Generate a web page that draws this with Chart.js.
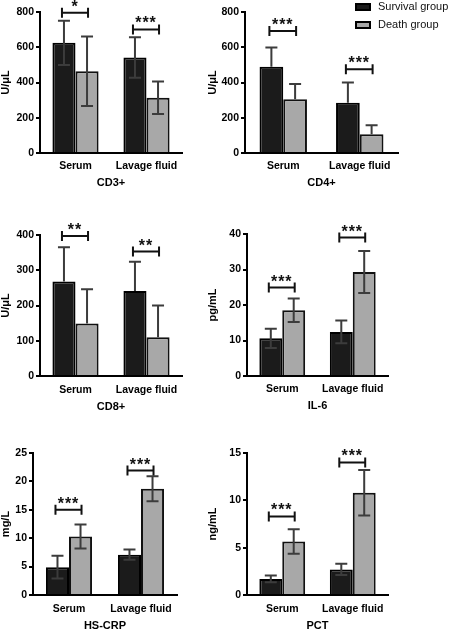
<!DOCTYPE html>
<html>
<head>
<meta charset="utf-8">
<script src="https://cdn.jsdelivr.net/npm/chart.js@4.4.1/dist/chart.umd.min.js"></script>
<style>
    html, body { margin: 0; padding: 0; background: #fff; }
    #wrap { position: relative; width: 450px; height: 631px; overflow: hidden; }
    canvas { position: absolute; }
</style>
</head>
<body>
<div id="wrap">
    <canvas id="cd3" width="225" height="210" style="left:0;top:0"></canvas>
    <canvas id="cd4" width="245" height="210" style="left:205px;top:0"></canvas>
    <canvas id="cd8" width="225" height="210" style="left:0;top:210px"></canvas>
    <canvas id="il6" width="245" height="210" style="left:205px;top:210px"></canvas>
    <canvas id="crp" width="225" height="211" style="left:0;top:420px"></canvas>
    <canvas id="pct" width="245" height="211" style="left:205px;top:420px"></canvas>
</div>
<script>
const categories = ['Serum', 'Lavage fluid'];
const groupNames = ['Survival group', 'Death group'];

// CD3+
const cd3Survival = [625, 542];
const cd3SurvivalSd = [125, 115];
const cd3Death = [464, 313];
const cd3DeathSd = [197, 92];
const cd3Sig = ['*', '***'];
const cd3SigAt = [796, 701];

// CD4+
const cd4Survival = [490, 285];
const cd4SurvivalSd = [108, 115];
const cd4Death = [305, 106];
const cd4DeathSd = [87, 52];
const cd4Sig = ['***', '***'];
const cd4SigAt = [692, 475];

// CD8+
const cd8Survival = [268, 241];
const cd8SurvivalSd = [97, 83];
const cd8Death = [149, 110];
const cd8DeathSd = [97, 90];
const cd8Sig = ['**', '**'];
const cd8SigAt = [397, 353];

// IL-6
const il6Survival = [10.6, 12.4];
const il6SurvivalSd = [2.7, 3.2];
const il6Death = [18.5, 29.3];
const il6DeathSd = [3.3, 5.9];
const il6Sig = ['***', '***'];
const il6SigAt = [24.9, 39];

// HS-CRP
const crpSurvival = [4.9, 7.1];
const crpSurvivalSd = [2.0, 0.9];
const crpDeath = [10.3, 18.7];
const crpDeathSd = [2.1, 2.2];
const crpSig = ['***', '***'];
const crpSigAt = [15.0, 21.9];

// PCT
const pctSurvival = [1.7, 2.7];
const pctSurvivalSd = [0.35, 0.6];
const pctDeath = [5.65, 10.8];
const pctDeathSd = [1.3, 2.4];
const pctSig = ['***', '***'];
const pctSigAt = [8.3, 14.0];

const FONT = '"Liberation Sans", Arial, sans-serif';

// error bars (mean +/- sd)
const errorBars = {
    id: 'errorBars',
    afterDatasetsDraw(chart, args, opts) {
        const ctx = chart.ctx;
        const y = chart.scales.y;
        ctx.save();
        ctx.strokeStyle = '#3c3c3c';
        ctx.lineWidth = 2;
        chart.data.datasets.forEach((ds, i) => {
            chart.getDatasetMeta(i).data.forEach((bar, j) => {
                const v = ds.data[j];
                const e = ds.errors[j];
                const top = y.getPixelForValue(v + e);
                const bottom = opts.down ? y.getPixelForValue(v - e) : y.getPixelForValue(v);
                ctx.beginPath();
                ctx.moveTo(bar.x, top);
                ctx.lineTo(bar.x, bottom);
                ctx.moveTo(bar.x - 6, top);
                ctx.lineTo(bar.x + 6, top);
                if (opts.down) {
                    ctx.moveTo(bar.x - 6, bottom);
                    ctx.lineTo(bar.x + 6, bottom);
                }
                ctx.stroke();
            });
        });
        ctx.restore();
    }
};

// significance brackets with stars
const sigBrackets = {
    id: 'sigBrackets',
    afterDatasetsDraw(chart, args, opts) {
        const ctx = chart.ctx;
        const y = chart.scales.y;
        const a = chart.getDatasetMeta(0).data;
        const b = chart.getDatasetMeta(1).data;
        ctx.save();
        ctx.strokeStyle = '#111';
        ctx.fillStyle = '#111';
        ctx.lineWidth = 2;
        ctx.font = 'bold 16px ' + FONT;
        ctx.textAlign = 'center';
        ctx.textBaseline = 'alphabetic';
        ctx.letterSpacing = '1px';
        opts.marks.forEach((mark, j) => {
            const yy = y.getPixelForValue(opts.at[j]);
            const x1 = a[j].x - 2;
            const x2 = b[j].x + 1;
            ctx.beginPath();
            ctx.moveTo(x1, yy);
            ctx.lineTo(x2, yy);
            ctx.moveTo(x1, yy - 5);
            ctx.lineTo(x1, yy + 5);
            ctx.moveTo(x2, yy - 5);
            ctx.lineTo(x2, yy + 5);
            ctx.stroke();
            ctx.fillText(mark, (x1 + x2) / 2, yy - 1);
        });
        ctx.restore();
    }
};

// legend boxes, only shown on the CD4+ panel
const groupLegend = {
    id: 'groupLegend',
    afterDraw(chart, args, opts) {
        if (!opts.show) return;
        const ctx = chart.ctx;
        ctx.save();
        ctx.font = '11px ' + FONT;
        ctx.textBaseline = 'middle';
        ctx.textAlign = 'left';
        chart.data.datasets.forEach((ds, i) => {
            const yy = opts.y + i * opts.gap;
            ctx.fillStyle = ds.backgroundColor;
            ctx.strokeStyle = '#000';
            ctx.lineWidth = 2;
            ctx.fillRect(opts.x, yy - 3, 14, 6);
            ctx.strokeRect(opts.x, yy - 3, 14, 6);
            ctx.fillStyle = '#111';
            ctx.fillText(ds.label, opts.x + 22, yy);
        });
        ctx.restore();
    }
};

function makePanel(p) {
    const canvas = document.getElementById(p.id);
    const W = canvas.width;
    const H = canvas.height;
    return new Chart(canvas, {
        type: 'bar',
        data: {
            labels: categories,
            datasets: [
                {
                    label: groupNames[0],
                    data: p.survival,
                    errors: p.survivalSd,
                    backgroundColor: '#1b1b1b',
                    borderColor: '#000',
                    borderWidth: 2,
                    categoryPercentage: p.catPct,
                    barPercentage: 1
                },
                {
                    label: groupNames[1],
                    data: p.death,
                    errors: p.deathSd,
                    backgroundColor: '#a8a8a8',
                    borderColor: '#111',
                    borderWidth: 2,
                    categoryPercentage: p.catPct,
                    barPercentage: 1
                }
            ]
        },
        options: {
            responsive: false,
            animation: false,
            devicePixelRatio: 1,
            layout: {
                padding: {left: 0, top: p.box.top, right: W - p.box.right, bottom: 0}
            },
            plugins: {
                legend: {display: false},
                tooltip: {enabled: false},
                errorBars: {down: p.down},
                sigBrackets: {marks: p.sig, at: p.sigAt},
                groupLegend: {show: !!p.legend, x: 151, y: 7, gap: 18}
            },
            scales: {
                x: {
                    grid: {display: false, drawTicks: false},
                    border: {display: true, color: '#000', width: 2},
                    ticks: {color: '#000', padding: p.labelPad, font: {family: FONT, weight: 'bold', size: 10.5}},
                    title: {
                        display: true,
                        text: p.title,
                        color: '#000',
                        font: {family: FONT, weight: 'bold', size: 11, lineHeight: 1},
                        padding: {top: 0, bottom: p.titlePad}
                    },
                    afterFit: s => { s.height = H - p.box.bottom; }
                },
                y: {
                    min: 0,
                    max: p.max,
                    grid: {drawOnChartArea: false, drawTicks: true, tickLength: 4, color: '#000', lineWidth: 2},
                    border: {display: true, color: '#000', width: 2},
                    ticks: {stepSize: p.step, color: '#000', padding: 2, font: {family: FONT, weight: 'bold', size: 10.5}},
                    title: {
                        display: true,
                        text: p.yTitle,
                        color: '#000',
                        font: {family: FONT, weight: 'bold', size: 11, lineHeight: 1},
                        padding: {top: p.yTitlePad, bottom: 0}
                    },
                    afterFit: s => { s.width = p.box.left; }
                }
            }
        },
        plugins: [errorBars, sigBrackets, groupLegend]
    });
}

makePanel({
    id: 'cd3', title: 'CD3+', yTitle: 'U/μL', max: 800, step: 200,
    survival: cd3Survival, survivalSd: cd3SurvivalSd, death: cd3Death, deathSd: cd3DeathSd,
    sig: cd3Sig, sigAt: cd3SigAt, down: true, catPct: 0.65,
    box: {left: 40, right: 182, top: 12, bottom: 153}, labelPad: 7, titlePad: 21.5, yTitlePad: 0
});
makePanel({
    id: 'cd4', title: 'CD4+', yTitle: 'U/μL', max: 800, step: 200,
    survival: cd4Survival, survivalSd: cd4SurvivalSd, death: cd4Death, deathSd: cd4DeathSd,
    sig: cd4Sig, sigAt: cd4SigAt, down: false, catPct: 0.62, legend: true,
    box: {left: 40, right: 193, top: 12, bottom: 153}, labelPad: 7, titlePad: 21.5, yTitlePad: 2
});
makePanel({
    id: 'cd8', title: 'CD8+', yTitle: 'U/μL', max: 400, step: 100,
    survival: cd8Survival, survivalSd: cd8SurvivalSd, death: cd8Death, deathSd: cd8DeathSd,
    sig: cd8Sig, sigAt: cd8SigAt, down: false, catPct: 0.65,
    box: {left: 40, right: 182, top: 25, bottom: 166}, labelPad: 8, titlePad: 7.5, yTitlePad: 0
});
makePanel({
    id: 'il6', title: 'IL-6', yTitle: 'pg/mL', max: 40, step: 10,
    survival: il6Survival, survivalSd: il6SurvivalSd, death: il6Death, deathSd: il6DeathSd,
    sig: il6Sig, sigAt: il6SigAt, down: true, catPct: 0.65,
    box: {left: 42, right: 183, top: 24, bottom: 166}, labelPad: 7, titlePad: 8.5, yTitlePad: 2
});
makePanel({
    id: 'crp', title: 'HS-CRP', yTitle: 'mg/L', max: 25, step: 5,
    survival: crpSurvival, survivalSd: crpSurvivalSd, death: crpDeath, deathSd: crpDeathSd,
    sig: crpSig, sigAt: crpSigAt, down: true, catPct: 0.64,
    box: {left: 33, right: 177, top: 33, bottom: 175}, labelPad: 8, titlePad: 0, yTitlePad: 0
});
makePanel({
    id: 'pct', title: 'PCT', yTitle: 'ng/mL', max: 15, step: 5,
    survival: pctSurvival, survivalSd: pctSurvivalSd, death: pctDeath, deathSd: pctDeathSd,
    sig: pctSig, sigAt: pctSigAt, down: true, catPct: 0.65,
    box: {left: 42, right: 183, top: 33, bottom: 175}, labelPad: 8, titlePad: 0, yTitlePad: 2
});
</script>
</body>
</html>
